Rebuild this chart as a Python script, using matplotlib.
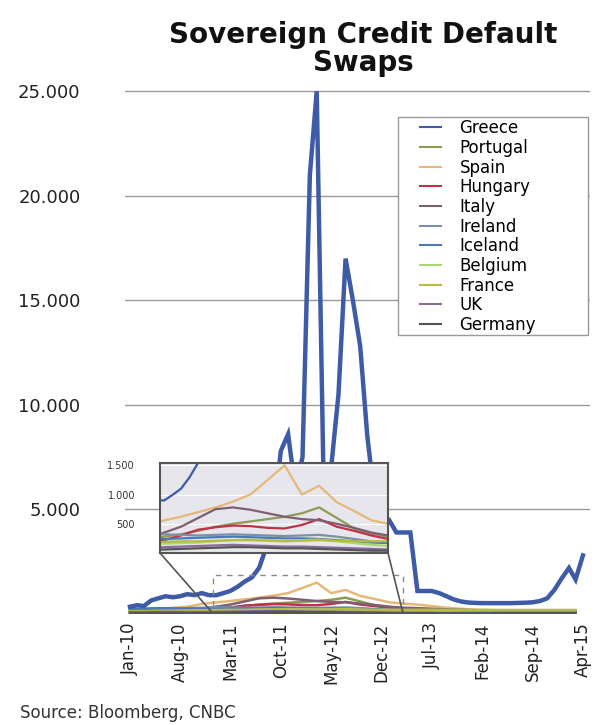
import numpy as np
import pandas as pd
import matplotlib
matplotlib.use('Agg')
import matplotlib.pyplot as plt
import matplotlib.dates as mdates
from matplotlib.patches import Rectangle, ConnectionPatch

plt.rcParams['font.family'] = ['DejaVu Sans']

# Greece, monthly Jan-10 .. Apr-15
months = pd.date_range('2010-01-01', periods=64, freq='MS')
greece = [350, 420, 380, 650, 750, 850, 800, 850, 950, 900, 1000, 900,
          900, 1000, 1100, 1300, 1550, 1750, 2200, 3200, 4500, 7800, 8600, 6000,
          7500, 21000, 25000, 5000, 7000, 10500, 17000, 15000, 12800, 8500, 5500, 4800,
          4500, 3900, 3900, 3900, 1100, 1100, 1100, 1000, 850, 700, 600, 550,
          530, 520, 520, 520, 520, 520, 530, 540, 560, 620, 750, 1150,
          1700, 2200, 1650, 2800]

# other countries, every two months Jan-10 .. Mar-15
dates_2m = pd.date_range('2010-01-01', periods=32, freq='2MS')
portugal = [100, 110, 150, 170, 180, 220, 280, 320, 380, 450, 500, 540,
            580, 620, 680, 780, 600, 420, 330, 280, 250, 230, 200, 180,
            160, 150, 140, 140, 150, 160, 170, 160]
spain = [150, 180, 250, 300, 350, 480, 560, 620, 700, 780, 880, 1000,
         1250, 1500, 1000, 1150, 870, 720, 560, 500, 450, 380, 300, 250,
         200, 180, 160, 150, 150, 160, 170, 160]
hungary = [150, 140, 200, 220, 250, 230, 220, 300, 400, 440, 470, 460,
           430, 420, 480, 580, 450, 380, 300, 240, 220, 200, 180, 170,
           160, 150, 140, 130, 130, 140, 140, 130]
italy = [120, 130, 200, 180, 200, 250, 350, 450, 600, 750, 780, 740,
         680, 620, 580, 560, 500, 430, 350, 300, 280, 250, 220, 200,
         180, 160, 140, 130, 120, 120, 130, 120]
ireland = [150, 160, 220, 250, 280, 300, 320, 310, 300, 310, 320, 310,
           300, 290, 300, 310, 280, 240, 200, 180, 160, 150, 140, 130,
           120, 110, 100, 100, 100, 100, 100, 100]
iceland = [250, 260, 280, 270, 260, 250, 240, 250, 260, 270, 280, 270,
           260, 250, 250, 240, 220, 200, 180, 170, 160, 150, 140, 140,
           130, 130, 120, 120, 120, 120, 120, 120]
belgium = [60, 70, 100, 120, 140, 150, 160, 170, 180, 200, 220, 230,
           220, 210, 220, 230, 200, 170, 140, 120, 100, 90, 80, 70,
           60, 60, 50, 50, 50, 50, 50, 50]
france = [120, 130, 150, 160, 170, 180, 190, 200, 200, 210, 220, 220,
          210, 200, 210, 220, 210, 200, 200, 200, 200, 200, 200, 200,
          200, 200, 190, 190, 190, 190, 190, 190]
uk = [80, 90, 100, 100, 90, 90, 100, 110, 120, 130, 140, 130,
      120, 110, 110, 100, 90, 80, 70, 60, 60, 60, 50, 50,
      40, 40, 40, 40, 40, 40, 40, 40]
germany = [50, 50, 60, 60, 50, 50, 60, 70, 80, 90, 100, 100,
           90, 80, 80, 70, 60, 50, 40, 40, 40, 40, 30, 30,
           30, 30, 30, 30, 30, 30, 30, 30]

others = [
    ('Portugal', portugal, '#8c9c55'),
    ('Spain', spain, '#e6b878'),
    ('Hungary', hungary, '#c2304a'),
    ('Italy', italy, '#7d5f70'),
    ('Ireland', ireland, '#7b8fab'),
    ('Iceland', iceland, '#4a78b8'),
    ('Belgium', belgium, '#a9d873'),
    ('France', france, '#b6bd3e'),
    ('UK', uk, '#8a6c9c'),
    ('Germany', germany, '#555555'),
]
greece_color = '#3d5ba6'

tick_dates = pd.date_range('2010-01-01', periods=10, freq='7MS')
tick_labels = [d.strftime('%b-%y') for d in tick_dates]
y_ticks = [5000, 10000, 15000, 20000, 25000]
y_tick_labels = ['5.000', '10.000', '15.000', '20.000', '25.000']
inset_ticks = [500, 1000, 1500]
inset_tick_labels = ['500', '1.000', '1.500']

zoom_start = pd.Timestamp('2010-12-17')
zoom_end = pd.Timestamp('2013-03-01')
zoom_top = 1870

fig = plt.figure(figsize=(5.96, 7.25), dpi=100)
ax = fig.add_axes([125 / 596, 111 / 725, 465 / 596, 529 / 725])

for name, vals, col in others:
    ax.plot(dates_2m, vals, color=col, lw=1.8, label=name, zorder=2)
ax.plot(months, greece, color=greece_color, lw=3.2, label='Greece', zorder=3,
        solid_joinstyle='miter')

ax.set_ylim(0, 25300)
ax.set_xlim(pd.Timestamp('2009-12-11'), pd.Timestamp('2015-05-01'))
ax.set_yticks(y_ticks)
ax.set_yticklabels(y_tick_labels)
ax.set_xticks(tick_dates)
ax.set_xticklabels(tick_labels, rotation=90)
ax.tick_params(axis='y', length=0, pad=32, labelsize=13, labelcolor='#222222')
ax.tick_params(axis='x', length=0, pad=6, labelsize=12, labelcolor='#222222')
ax.grid(axis='y', color='#999999', lw=1.0)
ax.set_axisbelow(True)
for s in ax.spines.values():
    s.set_visible(False)

# legend box drawn separately so the handles can sit further in
ax.add_patch(Rectangle((0.587, 0.5274), 0.4087, 0.4121, transform=ax.transAxes,
                       facecolor='white', edgecolor='#999999', lw=1.0, zorder=5))
handles, labels = ax.get_legend_handles_labels()
order = [labels.index(n) for n in ['Greece', 'Portugal', 'Spain', 'Hungary', 'Italy',
                                    'Ireland', 'Iceland', 'Belgium', 'France', 'UK', 'Germany']]
leg = ax.legend([handles[i] for i in order], [labels[i] for i in order],
                loc='upper left', bbox_to_anchor=(0.628, 0.94), borderaxespad=0,
                fontsize=12, labelspacing=0.1, handlelength=1.3, handletextpad=1.1,
                borderpad=0.15, frameon=False)
leg.set_zorder(6)
for h in leg.get_lines():
    h.set_linewidth(1.5)

# zoom window in the main chart
ax.add_patch(Rectangle((mdates.date2num(zoom_start), 0),
                       mdates.date2num(zoom_end) - mdates.date2num(zoom_start), zoom_top,
                       fill=False, edgecolor='#888888', lw=1.0, ls=(0, (4, 4)), zorder=4))
ax.plot([zoom_start, zoom_end], [40, 40], color='#555555', lw=1.5, zorder=4)

# inset
axin = fig.add_axes([160 / 596, 172 / 725, 228 / 596, 90 / 725])
axin.set_facecolor('#e6e6ec')
for name, vals, col in others:
    axin.plot(dates_2m, vals, color=col, lw=1.6)
axin.plot(months, greece, color=greece_color, lw=1.6)
axin.set_xlim(zoom_start, zoom_end)
axin.set_ylim(0, 1540)
axin.set_xticks([])
axin.set_yticks(inset_ticks)
axin.set_yticklabels(inset_tick_labels)
axin.tick_params(axis='y', length=0, pad=18, labelsize=7, labelcolor='#333333')
axin.grid(axis='y', color='white', lw=0.8)
axin.set_axisbelow(True)
for s in axin.spines.values():
    s.set_color('#555555')
    s.set_linewidth(1.5)

for xa, xb in [(0, zoom_start), (1, zoom_end)]:
    con = ConnectionPatch(xyA=(xa, 0), coordsA=axin.transAxes,
                          xyB=(mdates.date2num(xb), 40), coordsB=ax.transData,
                          color='#555555', lw=1.2)
    fig.add_artist(con)

fig.text(0.61, 1 - 35 / 725, 'Sovereign Credit Default', ha='center', va='center',
         fontsize=20, fontweight='bold', color='#111111')
fig.text(0.61, 1 - 63 / 725, 'Swaps', ha='center', va='center',
         fontsize=20, fontweight='bold', color='#111111')
fig.text(0.034, 0.01, 'Source: Bloomberg, CNBC', fontsize=12, color='#333333')

fig.savefig('out.png', dpi=100)
